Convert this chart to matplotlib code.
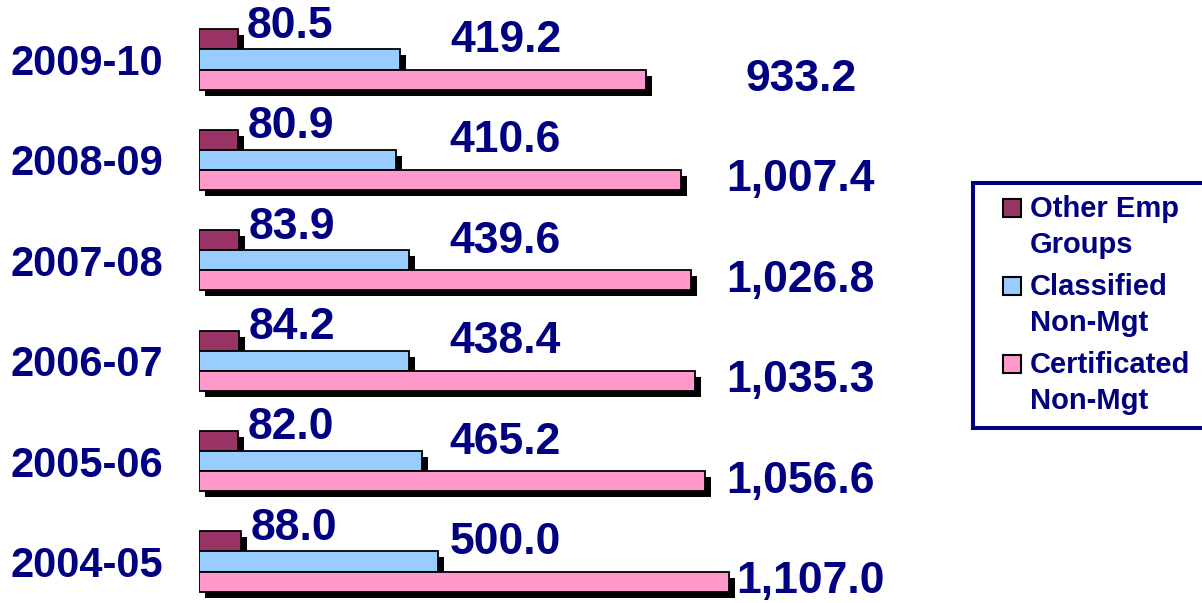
import numpy as np
import matplotlib.pyplot as plt
import matplotlib.patheffects as pe
from matplotlib.patches import Rectangle

# FTE by employee group, bottom to top
years = ["2004-05", "2005-06", "2006-07", "2007-08", "2008-09", "2009-10"]
other_emp = [88.0, 82.0, 84.2, 83.9, 80.9, 80.5]
classified = [500.0, 465.2, 438.4, 439.6, 410.6, 419.2]
certificated = [1107.0, 1056.6, 1035.3, 1026.8, 1007.4, 933.2]
series_names = ["Other Emp\nGroups", "Classified\nNon-Mgt", "Certificated\nNon-Mgt"]

NAVY = "#000080"
colors = ["#993366", "#99CCFF", "#FF99CC"]

plt.rcParams['font.family'] = ['Liberation Sans', 'DejaVu Sans']
plt.rcParams['font.weight'] = 'bold'


def main():
    fig = plt.figure(figsize=(12.02, 6.03), dpi=100)
    W, H = 1202, 603
    ax = fig.add_axes([199 / W, 0, 814 / W, 593 / H])
    ax.set_xlim(0, 1700)
    ax.set_ylim(-0.4133, 5.493)

    y = np.arange(len(years))
    h = 0.2
    shadow = [pe.SimplePatchShadow(offset=(4.3, -4.3), shadow_rgbFace='black', alpha=1.0),
              pe.Normal()]

    data = [other_emp, classified, certificated]
    offsets = [h, 0, -h]
    for vals, off, col in zip(data, offsets, colors):
        bars = ax.barh(y + off, vals, height=h, color=col, edgecolor='black', linewidth=1.3)
        for b in bars:
            b.set_path_effects(shadow)

    # value labels (roughly column-aligned like the original slide)
    lab = dict(ha='center', va='center', fontsize=32, color=NAVY, fontweight='bold')
    for i in range(len(years)):
        ax.text(other_emp[i] + 110, y[i] + h + 0.13, f"{other_emp[i]:,.1f}", **lab)
        ax.text(max(classified) + 140, y[i] + 0.19, f"{classified[i]:,.1f}", **lab)
        ax.text(max(max(certificated) + 150, certificated[i] + 170), y[i] - h,
                f"{certificated[i]:,.1f}", **lab)

    ax.set_yticks(y)
    ax.set_yticklabels(years, fontsize=30, color=NAVY, fontweight='bold')
    ax.tick_params(axis='y', length=0, pad=26)
    ax.set_xticks([])
    for s in ax.spines.values():
        s.set_visible(False)

    # legend box
    fig.patches.append(Rectangle((973 / W, 1 - 428 / H), 250 / W, 245 / H,
                                 transform=fig.transFigure, facecolor='white',
                                 edgecolor=NAVY, linewidth=2.9))
    for k, (name, col) in enumerate(zip(series_names, colors)):
        cy = 208 + k * 78
        fig.patches.append(Rectangle((1003 / W, 1 - (cy + 9) / H), 18 / W, 18 / H,
                                     transform=fig.transFigure, facecolor=col,
                                     edgecolor='black', linewidth=1.5))
        for j, line in enumerate(name.split("\n")):
            fig.text(1030 / W, 1 - (cy + 9 + j * 36) / H, line, ha='left', va='baseline',
                     fontsize=21, color=NAVY, fontweight='bold')

    fig.savefig("out.png", dpi=100)


if __name__ == "__main__":
    main()
